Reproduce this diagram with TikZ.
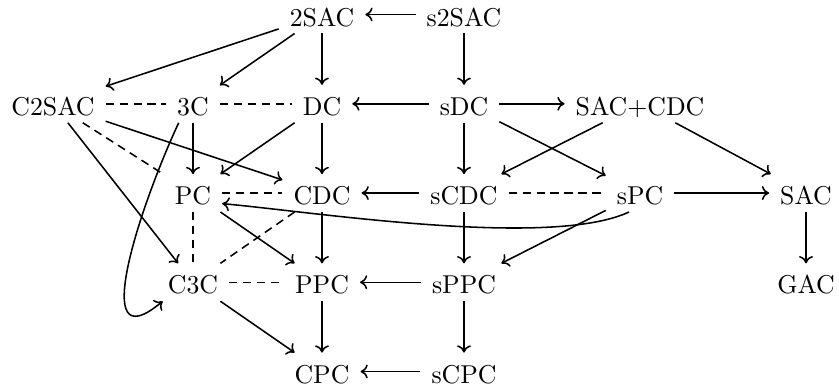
\documentclass[tikz,border=0pt]{standalone}
\usetikzlibrary{arrows.meta}
\begin{document}
\begin{tikzpicture}[x=0.3876pt, y=0.3876pt,
  cell/.style={inner xsep=4.1pt, inner ysep=0pt, text height=11.6pt, text depth=2.7pt, anchor=base},
  arr/.style={draw, line width=0.6pt, -{Computer Modern Rightarrow[length=2.8pt, width=5.4pt]}},
  dsh/.style={draw, line width=0.6pt, dash pattern=on 3.2pt off 2.2pt}]
\useasboundingbox (0,0) rectangle (839,-391);
% row 1
\node[cell] (n2SAC) at (322,-26) {2SAC};
\node[cell] (s2SAC) at (464,-26) {s2SAC};
% row 2
\node[cell] (C2SAC) at (53,-115.25) {C2SAC};
\node[cell] (n3C) at (193,-115.25) {3C};
\node[cell] (DC) at (322,-115.25) {DC};
\node[cell] (sDC) at (464,-115.25) {sDC};
\node[cell] (SACCDC) at (640,-115.25) {SAC+CDC};
% row 3
\node[cell] (PC) at (193,-204.5) {PC};
\node[cell] (CDC) at (322,-204.5) {CDC};
\node[cell] (sCDC) at (464,-204.5) {sCDC};
\node[cell] (sPC) at (640,-204.5) {sPC};
\node[cell] (SAC) at (806,-204.5) {SAC};
% row 4
\node[cell] (C3C) at (193,-293.75) {C3C};
\node[cell] (PPC) at (322,-293.75) {PPC};
\node[cell] (sPPC) at (464,-293.75) {sPPC};
\node[cell] (GAC) at (806,-293.75) {GAC};
% row 5
\node[cell] (CPC) at (322,-383) {CPC};
\node[cell] (sCPC) at (464,-383) {sCPC};

% solid arrows
\draw[arr] (s2SAC) -- (n2SAC);
\draw[arr] (n2SAC) -- (C2SAC);
\draw[arr] (n2SAC) -- (n3C);
\draw[arr] (n2SAC) -- (DC);
\draw[arr] (s2SAC) -- (sDC);
\draw[arr] (sDC) -- (DC);
\draw[arr] (sDC) -- (SACCDC);
\draw[arr] (C2SAC) -- (CDC);
\draw[arr] (C2SAC) -- (C3C);
\draw[arr] (n3C) -- (PC);
\draw[arr] (DC) -- (PC);
\draw[arr] (DC) -- (CDC);
\draw[arr] (sDC) -- (sCDC);
\draw[arr] (sDC) -- (sPC);
\draw[arr] (SACCDC) -- (sCDC);
\draw[arr] (SACCDC) -- (SAC);
\draw[arr] (sCDC) -- (CDC);
\draw[arr] (sPC) -- (SAC);
\draw[arr] (PC) -- (PPC);
\draw[arr] (CDC) -- (PPC);
\draw[arr] (sCDC) -- (sPPC);
\draw[arr] (sPC) -- (sPPC);
\draw[arr] (SAC) -- (GAC);
\draw[arr] (sPPC) -- (PPC);
\draw[arr] (C3C) -- (CPC);
\draw[arr] (PPC) -- (CPC);
\draw[arr] (sPPC) -- (sCPC);
\draw[arr] (sCPC) -- (CPC);
% curved arrows
\draw[arr] (n3C.233) to[out=245, in=220, out looseness=1.3, in looseness=1.4] (C3C.212);
\draw[arr] (sPC.240) to[out=205, in=-5, looseness=0.55] (PC.-20);
% dashed lines
\draw[dsh] (C2SAC) -- (n3C);
\draw[dsh] (n3C) -- (DC);
\draw[dsh] (C2SAC) -- (PC);
\draw[dsh] (PC) -- (CDC);
\draw[dsh] (sCDC) -- (sPC);
\draw[dsh] (PC) -- (C3C);
\draw[dsh] (CDC) -- (C3C);
\draw[dsh] (C3C) -- (PPC);
\end{tikzpicture}
\end{document}
